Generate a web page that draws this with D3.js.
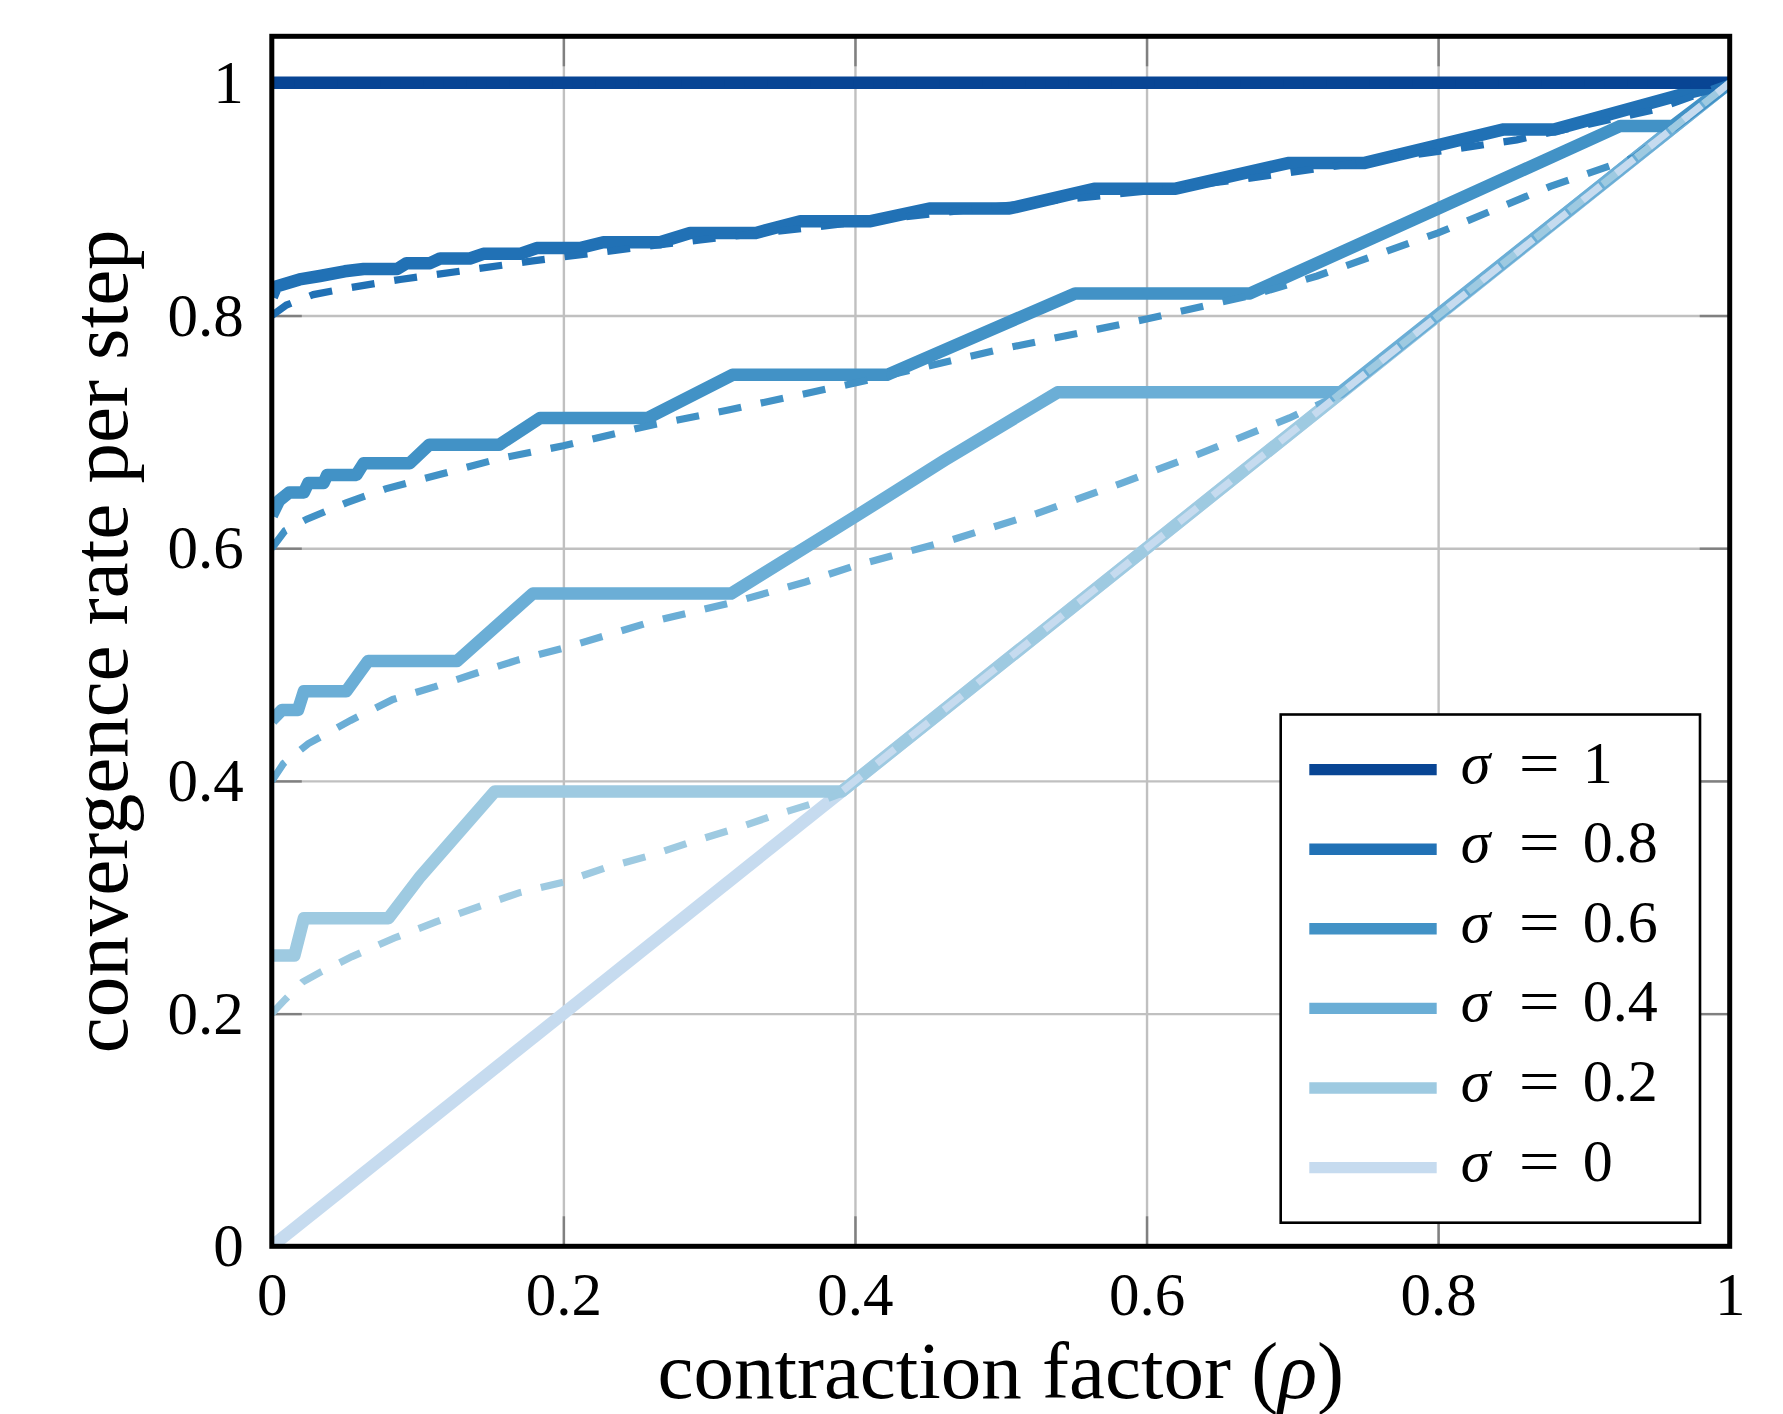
<!DOCTYPE html>
<html>
<head>
  <meta charset="utf-8">
  <script src="https://d3js.org/d3.v7.min.js"></script>
  <style>
    body{
      margin: 0;
      background: #ffffff;
    }
    text{
      font-family: "Liberation Serif", "Times New Roman", serif;
      fill: #000000;
    }
    .tick text{
      font-size: 61px;
    }
    .grid .tick line{
      stroke: #c0c0c0;
      stroke-width: 2.4px;
    }
    .axis .tick line{
      stroke: #808080;
      stroke-width: 2.4px;
    }
    path.domain{
      display: none;
    }
    text.axisLabel{
      font-size: 81px;
    }
    text.legendLabel{
      font-size: 60px;
    }
  </style>
</head>

<body>
  <script>

  // values: [rho, convergence rate]
  const rhoTicks = [0, 0.2, 0.4, 0.6, 0.8, 1];
  const rhoTickLabels = ['0', '0.2', '0.4', '0.6', '0.8', '1'];
  const rateTicks = [0, 0.2, 0.4, 0.6, 0.8, 1];
  const rateTickLabels = ['0', '0.2', '0.4', '0.6', '0.8', '1'];

  const sigmas = [1, 0.8, 0.6, 0.4, 0.2, 0];
  const sigmaLabels = ['1', '0.8', '0.6', '0.4', '0.2', '0'];
  const colours = ['#084594', '#2171b5', '#4292c6', '#6baed6', '#9ecae1', '#c6dbef'];

  const solid10 = [[0,1],[1,1]];
  const dashed10 = [[0,1],[1,1]];

  const solid08 = [[0,0.816],[0.003,0.825],[0.019,0.831],[0.033,0.834],[0.05,0.838],[0.063,0.840],
    [0.086,0.840],[0.0925,0.845],[0.1085,0.845],[0.1154,0.849],[0.1359,0.849],[0.1451,0.853],
    [0.1703,0.853],[0.1817,0.858],[0.2114,0.858],[0.2274,0.863],[0.2663,0.863],[0.2869,0.871],
    [0.332,0.871],[0.3625,0.881],[0.410,0.881],[0.451,0.892],[0.506,0.892],[0.564,0.909],
    [0.620,0.909],[0.697,0.931],[0.749,0.931],[0.845,0.960],[0.880,0.960],[0.970,0.991],[1,1]];
  const dashed08 = [[0,0.8],[0.010,0.809],[0.0285,0.818],[0.054,0.824],[0.088,0.831],[0.134,0.839],
    [0.179,0.847],[0.248,0.858],[0.294,0.865],[0.4,0.880],[0.5,0.894],[0.6,0.907],[0.671,0.918],
    [0.8,0.941],[0.854,0.951],[0.949,0.977],[1,1]];

  const solid06 = [[0,0.628],[0.005,0.641],[0.012,0.648],[0.022,0.648],[0.025,0.656],[0.0355,0.656],
    [0.038,0.663],[0.058,0.663],[0.063,0.673],[0.0946,0.673],[0.108,0.689],[0.156,0.689],
    [0.184,0.712],[0.258,0.712],[0.316,0.749],[0.422,0.749],[0.551,0.819],[0.671,0.819],
    [0.8,0.892],[0.925,0.963],[0.961,0.963],[1,1]];
  const dashed06 = [[0,0.6],[0.009,0.615],[0.024,0.625],[0.051,0.639],[0.078,0.651],[0.117,0.664],
    [0.156,0.677],[0.2,0.688],[0.261,0.706],[0.314,0.719],[0.4,0.742],[0.5,0.771],[0.6,0.797],
    [0.674,0.818],[0.717,0.834],[0.8,0.871],[0.877,0.911],[0.935,0.936],[1,1]];

  const solid04 = [[0,0.452],[0.007,0.461],[0.018,0.461],[0.022,0.477],[0.051,0.477],[0.066,0.503],
    [0.127,0.503],[0.179,0.561],[0.315,0.561],[0.4,0.627],[0.462,0.676],[0.539,0.734],
    [0.733,0.734],[1,1]];
  const dashed04 = [[0,0.4],[0.008,0.415],[0.025,0.432],[0.054,0.452],[0.083,0.470],[0.112,0.481],
    [0.141,0.493],[0.169,0.504],[0.2,0.514],[0.261,0.537],[0.318,0.554],[0.366,0.571],
    [0.4,0.585],[0.466,0.607],[0.525,0.630],[0.583,0.656],[0.640,0.683],[0.698,0.712],
    [0.731,0.731],[1,1]];

  const solid02 = [[0,0.250],[0.0155,0.250],[0.022,0.282],[0.080,0.282],[0.102,0.318],[0.123,0.348],
    [0.153,0.391],[0.391,0.391],[1,1]];
  const dashed02 = [[0,0.2],[0.009,0.212],[0.021,0.227],[0.034,0.236],[0.055,0.249],[0.084,0.265],
    [0.113,0.279],[0.142,0.292],[0.170,0.304],[0.2,0.313],[0.228,0.325],[0.260,0.336],
    [0.289,0.348],[0.318,0.359],[0.346,0.371],[0.375,0.382],[0.388,0.388],[1,1]];

  const solid00 = [[0,0],[1,1]];
  const dashed00 = [[0,0],[1,1]];

  const solidSeries = [solid10, solid08, solid06, solid04, solid02, solid00];
  const dashedSeries = [dashed10, dashed08, dashed06, dashed04, dashed02, dashed00];

  var width = 1783;
  var height = 1414;
  const plot = {left: 271.8, right: 1729.7, top: 36.3, bottom: 1246.3};

  var svg = d3.select('body').append('svg')
    .attr('width', width)
    .attr('height', height);

  let x = d3.scaleLinear()
    .domain([0, 1])
    .range([plot.left, plot.right]);

  let y = d3.scaleLinear()
    .domain([0, 1.04])
    .range([plot.bottom, plot.top]);

  // grid
  svg.append('g')
    .attr('class', 'grid')
    .attr('transform', `translate(0, ${plot.bottom})`)
    .call(d3.axisBottom(x).tickValues(rhoTicks).tickSize(-(plot.bottom-plot.top)).tickFormat(''));

  svg.append('g')
    .attr('class', 'grid')
    .attr('transform', `translate(${plot.left}, 0)`)
    .call(d3.axisLeft(y).tickValues(rateTicks).tickSize(-(plot.right-plot.left)).tickFormat(''));

  // short inward ticks on all four sides
  svg.append('g')
    .attr('class', 'axis xAxis')
    .attr('transform', `translate(0, ${plot.bottom})`)
    .call(d3.axisBottom(x).tickValues(rhoTicks).tickSize(-30).tickPadding(25)
      .tickFormat((d, i) => rhoTickLabels[i]));

  svg.append('g')
    .attr('class', 'axis')
    .attr('transform', `translate(0, ${plot.top})`)
    .call(d3.axisTop(x).tickValues(rhoTicks).tickSize(-30).tickFormat(''));

  svg.append('g')
    .attr('class', 'axis yAxis')
    .attr('transform', `translate(${plot.left}, 0)`)
    .call(d3.axisLeft(y).tickValues(rateTicks).tickSize(-30).tickPadding(28)
      .tickFormat((d, i) => rateTickLabels[i]));

  svg.append('g')
    .attr('class', 'axis')
    .attr('transform', `translate(${plot.right}, 0)`)
    .call(d3.axisRight(y).tickValues(rateTicks).tickSize(-30).tickFormat(''));

  svg.selectAll('.xAxis .tick text').attr('dy', '0.71em');

  // lines
  svg.append('clipPath')
    .attr('id', 'plotClip')
    .append('rect')
    .attr('x', plot.left)
    .attr('y', plot.top)
    .attr('width', plot.right-plot.left)
    .attr('height', plot.bottom-plot.top);

  let line = d3.line()
    .x(d => x(d[0]))
    .y(d => y(d[1]));

  let lines = svg.append('g').attr('clip-path', 'url(#plotClip)');

  // solid curves, lightest first
  d3.range(sigmas.length).reverse().forEach(i => {
    lines.append('path')
      .attr('d', line(solidSeries[i]))
      .style('fill', 'none')
      .style('stroke', colours[i])
      .style('stroke-width', 12.5)
      .style('stroke-linejoin', 'round');
  });

  // dashed curves on top
  d3.range(sigmas.length).forEach(i => {
    lines.append('path')
      .attr('d', line(dashedSeries[i]))
      .style('fill', 'none')
      .style('stroke', colours[i])
      .style('stroke-width', 7.2)
      .style('stroke-dasharray', '23,20');
  });

  // frame
  svg.append('rect')
    .attr('x', plot.left)
    .attr('y', plot.top)
    .attr('width', plot.right-plot.left)
    .attr('height', plot.bottom-plot.top)
    .style('fill', 'none')
    .style('stroke', '#000000')
    .style('stroke-width', 5);

  // axis labels
  svg.append('text')
    .attr('class', 'axisLabel')
    .attr('x', (plot.left+plot.right)/2)
    .attr('y', 1398)
    .style('text-anchor', 'middle')
    .html('contraction factor (<tspan font-style="italic">ρ</tspan>)');

  svg.append('text')
    .attr('class', 'axisLabel')
    .attr('transform', `translate(127, ${(plot.top+plot.bottom)/2}) rotate(-90)`)
    .style('text-anchor', 'middle')
    .text('convergence rate per step');

  // legend
  const legend = {left: 1280.7, top: 714.5, width: 419.3, height: 508.2, first: 769.6, step: 79.6};

  svg.append('rect')
    .attr('x', legend.left)
    .attr('y', legend.top)
    .attr('width', legend.width)
    .attr('height', legend.height)
    .style('fill', '#ffffff')
    .style('stroke', '#000000')
    .style('stroke-width', 2.6);

  let rows = svg.selectAll('g.legendRow')
    .data(sigmas)
    .enter()
    .append('g')
    .attr('class', 'legendRow')
    .attr('transform', (d, i) => `translate(${legend.left}, ${legend.first + i*legend.step})`);

  rows.append('line')
    .attr('x1', 28.6)
    .attr('x2', 156)
    .style('stroke', (d, i) => colours[i])
    .style('stroke-width', 11.4);

  rows.append('text')
    .attr('class', 'legendLabel')
    .attr('x', 180)
    .attr('y', 13)
    .style('font-style', 'italic')
    .text('σ');

  rows.append('text')
    .attr('class', 'legendLabel')
    .attr('x', 238)
    .attr('y', 13)
    .attr('textLength', 41)
    .attr('lengthAdjust', 'spacingAndGlyphs')
    .text('=');

  rows.append('text')
    .attr('class', 'legendLabel')
    .attr('x', 302)
    .attr('y', 13)
    .text((d, i) => sigmaLabels[i]);

  </script>
</body>
</html>
